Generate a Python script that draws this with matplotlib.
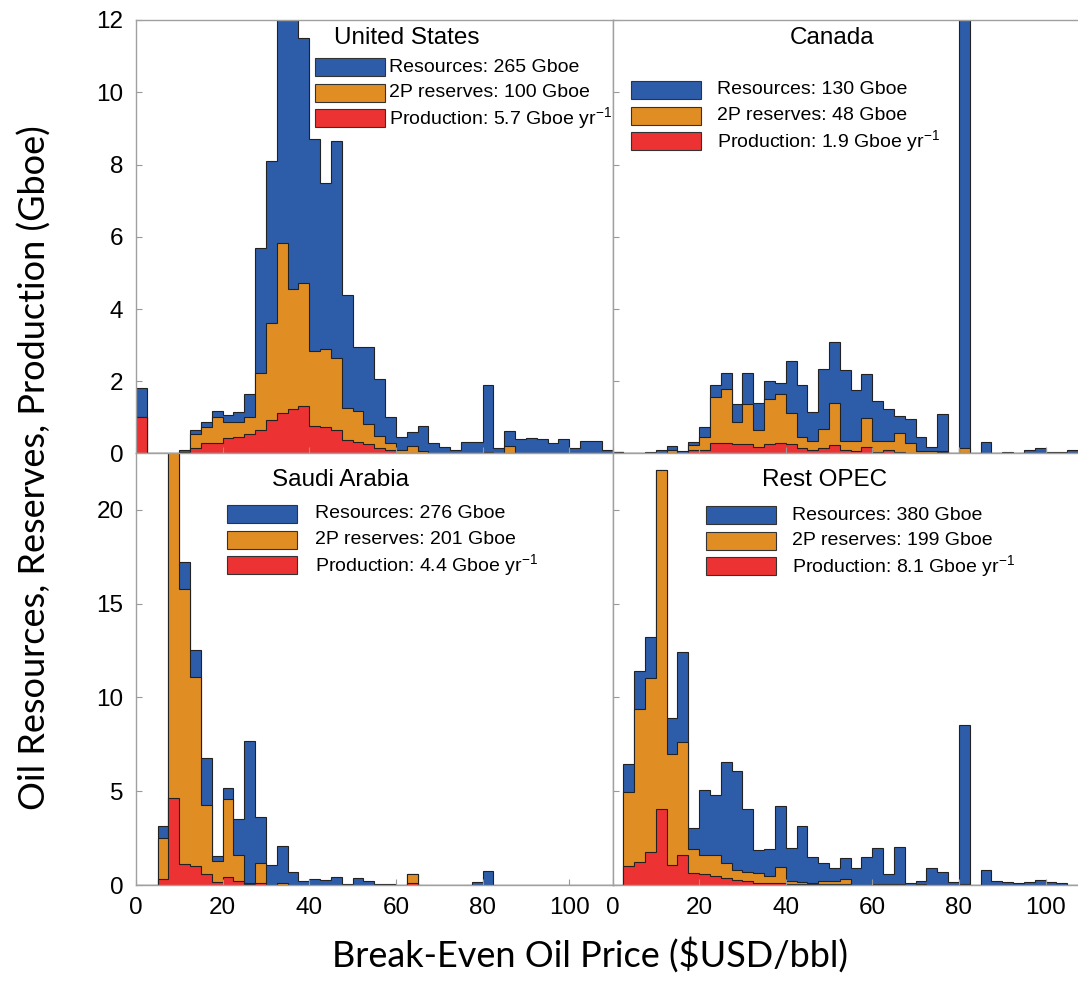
import numpy as np
import matplotlib
matplotlib.use('Agg')
import matplotlib.pyplot as plt
from matplotlib.patches import Rectangle

plt.rcParams['font.family'] = ['Liberation Sans', 'DejaVu Sans']
plt.rcParams['mathtext.fontset'] = 'custom'
plt.rcParams['mathtext.rm'] = 'Liberation Sans'
plt.rcParams['mathtext.it'] = 'Liberation Sans'

# bin edges: 2.5 $/bbl wide bins from 0 to 110
edges = np.arange(0, 110.01, 2.5)

us_res = [1.8, 0, 0, 0, 0.1, 0.65, 0.88, 1.17, 1.06, 1.15, 1.66, 5.68, 8.1, 14.5, 13.5,
          11.5, 8.7, 7.48, 8.66, 4.4, 2.94, 2.94, 2.06, 1.02, 0.46, 0.6, 0.76, 0.28, 0.18, 0.11,
          0.32, 0.32, 1.89, 0.14, 0.62, 0.39, 0.43, 0.39, 0.28, 0.41, 0.14, 0.35, 0.35, 0.09]
us_2p = [1.0, 0, 0, 0, 0.05, 0.55, 0.74, 1.0, 0.88, 0.88, 1.02, 2.23, 3.62, 5.84, 4.54,
         4.73, 2.84, 2.88, 2.63, 1.27, 1.18, 0.81, 0.48, 0.28, 0.09, 0.21, 0.06, 0.02, 0.02, 0.01,
         0.01, 0.01, 0.05, 0, 0.2, 0.02, 0.02, 0.02, 0.02, 0.02, 0.02, 0.02, 0.02, 0.02]
us_prod = [1.0, 0, 0, 0, 0.02, 0.14, 0.28, 0.28, 0.42, 0.46, 0.55, 0.65, 0.92, 1.11, 1.22,
           1.31, 0.76, 0.72, 0.65, 0.37, 0.32, 0.26, 0.14, 0.09, 0.02, 0.02, 0.01, 0.01, 0.01, 0.01,
           0, 0, 0.01, 0, 0.01, 0, 0, 0, 0, 0, 0, 0, 0, 0]

ca_res = [0.05, 0, 0, 0.03, 0.09, 0.2, 0.06, 0.32, 0.72, 1.89, 2.24, 1.37, 2.22, 1.4, 2.0,
          1.96, 2.57, 1.91, 1.15, 2.35, 3.09, 2.31, 1.77, 2.19, 1.46, 1.23, 1.04, 0.95, 0.46, 0.18,
          1.08, 0, 90.0, 0, 0.32, 0.01, 0.03, 0.01, 0.09, 0.16, 0.05, 0.05, 0.11, 0.1]
ca_2p = [0.05, 0, 0, 0, 0, 0.09, 0, 0.23, 0.46, 1.57, 1.78, 0.86, 1.36, 0.65, 1.5,
         1.66, 1.13, 0.46, 0.34, 0.67, 1.39, 0.34, 0.34, 0.97, 0.34, 0.34, 0.57, 0.28, 0.06, 0.06,
         0.08, 0, 0.14, 0, 0, 0, 0, 0, 0, 0, 0, 0, 0, 0]
ca_prod = [0.05, 0, 0, 0, 0, 0, 0, 0.09, 0.09, 0.28, 0.3, 0.25, 0.25, 0.18, 0.27,
           0.3, 0.25, 0.16, 0.11, 0.16, 0.23, 0.09, 0.06, 0.18, 0.04, 0.09, 0.04, 0.02, 0, 0,
           0.05, 0, 0, 0, 0, 0, 0, 0, 0, 0, 0, 0, 0, 0]

sa_res = [0, 0, 3.12, 26.0, 17.2, 12.5, 6.77, 1.57, 5.19, 3.51, 7.67, 3.65, 1.09, 2.06, 0.69,
          0.21, 0.3, 0.26, 0.44, 0.05, 0.39, 0.21, 0.07, 0.03, 0, 0.6, 0, 0, 0, 0,
          0, 0.18, 0.74, 0, 0, 0, 0, 0, 0, 0, 0, 0, 0, 0]
sa_2p = [0, 0, 2.5, 26.0, 15.8, 11.1, 4.27, 1.27, 4.57, 1.62, 0.12, 1.18, 0.02, 0.12, 0,
         0, 0, 0, 0, 0, 0, 0, 0, 0, 0, 0.6, 0, 0, 0, 0,
         0, 0, 0, 0, 0, 0, 0, 0, 0, 0, 0, 0, 0, 0]
sa_prod = [0, 0, 0.3, 4.66, 1.13, 1.0, 0.56, 0.16, 0.42, 0.21, 0.06, 0.12, 0, 0, 0,
           0, 0, 0, 0, 0, 0, 0, 0, 0, 0, 0.12, 0, 0, 0, 0,
           0, 0, 0, 0, 0, 0, 0, 0, 0, 0, 0, 0, 0, 0]

op_res = [0, 6.44, 11.4, 13.2, 22.1, 8.9, 12.4, 3.03, 5.06, 4.8, 6.58, 6.05, 4.06, 1.89, 1.9,
          4.23, 1.98, 3.14, 1.5, 1.18, 0.88, 1.46, 0.88, 1.5, 1.98, 0.58, 2.03, 0.09, 0.21, 0.88,
          0.71, 0.18, 8.55, 0, 0.79, 0.21, 0.14, 0.09, 0.18, 0.26, 0.18, 0.09, 0, 0]
op_2p = [0, 4.97, 9.38, 11.06, 22.1, 7.0, 7.62, 1.9, 1.59, 1.59, 1.15, 0.79, 0.71, 0.62, 0.48,
         0.97, 0.23, 0.18, 0.12, 0.21, 0.21, 0.3, 0.02, 0.02, 0.05, 0.05, 0.05, 0.02, 0.05, 0,
         0, 0, 0.05, 0, 0, 0, 0, 0, 0, 0, 0, 0, 0, 0]
op_prod = [0, 1.0, 1.23, 1.76, 4.06, 1.09, 1.62, 0.62, 0.56, 0.48, 0.39, 0.26, 0.21, 0.12, 0.09,
           0.09, 0.05, 0.05, 0.04, 0.04, 0.04, 0.04, 0, 0, 0.02, 0.02, 0, 0, 0, 0,
           0, 0, 0, 0, 0, 0, 0, 0, 0, 0, 0, 0, 0, 0]

titles = ['United States', 'Canada', 'Saudi Arabia', 'Rest OPEC']
res_totals = [265, 130, 276, 380]
res_2p = [100, 48, 201, 199]
prod_totals = [5.7, 1.9, 4.4, 8.1]

colors = ['#2d5da9', '#e08d24', '#ec3232']

W, H = 1078, 1001
fig = plt.figure(figsize=(W / 100, H / 100), dpi=100)


def px_box(x0, y0, x1, y1):
    # pixel box (from top-left) -> figure fraction [left, bottom, width, height]
    return [x0 / W, 1 - y1 / H, (x1 - x0) / W, (y1 - y0) / H]


axes = [fig.add_axes(px_box(136, 20, 612.5, 453.5)),
        fig.add_axes(px_box(612.5, 20, 1078, 453.5)),
        fig.add_axes(px_box(136, 453.5, 612.5, 885)),
        fig.add_axes(px_box(612.5, 453.5, 1078, 885))]

series = [(us_res, us_2p, us_prod), (ca_res, ca_2p, ca_prod),
          (sa_res, sa_2p, sa_prod), (op_res, op_2p, op_prod)]

for i, ax in enumerate(axes):
    for vals, c in zip(series[i], colors):
        ax.stairs(vals, edges, fill=True, facecolor=c, edgecolor='#222222', linewidth=0.8)
    ax.set_xlim(0, 110 if i % 2 == 0 else 107.5)
    if i < 2:
        ax.set_ylim(0, 12)
        ax.set_yticks(range(0, 13, 2))
        ax.set_xticklabels([])
    else:
        ax.set_ylim(0, 23)
        ax.set_yticks(range(0, 21, 5))
    ax.set_xticks(range(0, 101, 20))
    if i % 2 == 1:
        ax.set_yticklabels([])
        ax.spines['right'].set_visible(False)
    ax.tick_params(direction='in', length=4, color='#999999', labelsize=17.5, pad=9)
    for s in ax.spines.values():
        s.set_color('#a0a0a0')
        s.set_linewidth(1.0)

# titles and keys, drawn in pixel positions of the figure
key_pos = [(407, 38, 315, 58, 389), (832, 38, 631, 81, 717),
           (340, 480, 227, 505, 315), (825, 480, 706, 506, 792)]
for i, (tx, ty, kx, ky, lx) in enumerate(key_pos):
    fig.text(tx / W, 1 - ty / H, titles[i], fontsize=17.5, ha='center', va='center')
    labels = ['Resources: %d Gboe' % res_totals[i],
              '2P reserves: %d Gboe' % res_2p[i],
              'Production: %.1f Gboe yr$^{-1}$' % prod_totals[i]]
    for j, (lab, c) in enumerate(zip(labels, colors)):
        y = ky + j * 25.5
        fig.add_artist(Rectangle((kx / W, 1 - (y + 18) / H), 70 / W, 18 / H,
                                 transform=fig.transFigure, facecolor=c,
                                 edgecolor='#333333', linewidth=0.8))
        fig.text(lx / W, 1 - (y + 9) / H, lab, fontsize=14, ha='left', va='center')

fig.text(35 / W, 1 - 468 / H, 'Oil Resources, Reserves, Production (Gboe)',
         rotation=90, fontsize=26, family=['Lato', 'DejaVu Sans'],
         ha='center', va='center')
fig.text(590 / W, 1 - 955 / H, 'Break-Even Oil Price ($USD/bbl)',
         fontsize=26, family=['Lato', 'DejaVu Sans'],
         ha='center', va='center')

fig.savefig('out.png', dpi=100)
